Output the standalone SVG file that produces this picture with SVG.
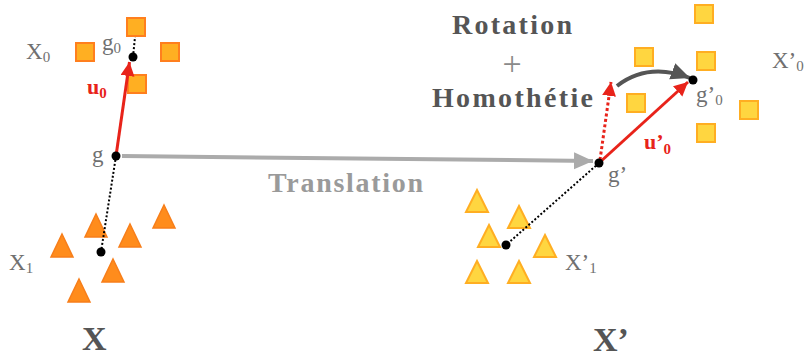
<svg xmlns="http://www.w3.org/2000/svg" width="806" height="358" viewBox="0 0 806 358">
<style>
.sqL{fill:#FFAF22;stroke:#FF7F1E;stroke-width:2}
.trL{fill:#FF8C1C;stroke:#F77E1A;stroke-width:1.5}
.sqR{fill:#FFD640;stroke:#FFAE22;stroke-width:2}
.trR{fill:#FFD640;stroke:#FFAE22;stroke-width:2}
.dot{fill:#000}
.lbl{font-family:"Liberation Serif",serif;fill:#707070;font-size:23px}
.sub{font-size:15px}
.red{font-family:"Liberation Serif",serif;fill:#E8231A;font-weight:bold;font-size:22px}
.big{font-family:"Liberation Serif",serif;fill:#555;font-weight:bold;font-size:34px}
.op{font-family:"Liberation Serif",serif;fill:#555;font-weight:bold;font-size:28px}
.dotted{stroke:#000;stroke-width:2;stroke-dasharray:2,2;fill:none}
</style>
<defs>
<marker id="hRed" markerUnits="userSpaceOnUse" markerWidth="16" markerHeight="16" refX="14" refY="7" orient="auto"><path d="M0,0 L14,7 L0,14 z" fill="#E8231A"/></marker>
<marker id="hGray" markerUnits="userSpaceOnUse" markerWidth="20" markerHeight="18" refX="19" refY="8.5" orient="auto"><path d="M0,0 L19,8.5 L0,17 z" fill="#ABABAB"/></marker>
<marker id="hDark" markerUnits="userSpaceOnUse" markerWidth="20" markerHeight="18" refX="19" refY="8.5" orient="auto"><path d="M0,0 L19,8.5 L0,17 z" fill="#555"/></marker>
</defs>

<g id="X0">
<rect class="sqL" x="127" y="18" width="18" height="18"/>
<rect class="sqL" x="76" y="43" width="18" height="18"/>
<rect class="sqL" x="161" y="43" width="18" height="18"/>
<rect class="sqL" x="128" y="75" width="18" height="18"/>
<text class="lbl" x="26" y="59">X<tspan class="sub" dy="3">0</tspan></text>
</g>

<g id="X1">
<polygon class="trL" points="96,214 107,237 85,237"/>
<polygon class="trL" points="62,234 73,257 51,257"/>
<polygon class="trL" points="130,224 141,247 119,247"/>
<polygon class="trL" points="164,205 175,228 153,228"/>
<polygon class="trL" points="113,259 124,282 102,282"/>
<polygon class="trL" points="79,279 90,302 68,302"/>
<text class="lbl" x="9" y="270">X<tspan class="sub" dy="3">1</tspan></text>
</g>

<g id="X0p">
<rect class="sqR" x="695" y="5" width="18" height="18"/>
<rect class="sqR" x="635" y="48" width="18" height="18"/>
<rect class="sqR" x="697" y="52" width="18" height="18"/>
<rect class="sqR" x="627" y="94" width="18" height="18"/>
<rect class="sqR" x="740" y="101" width="18" height="18"/>
<rect class="sqR" x="697" y="124" width="18" height="18"/>
<text class="lbl" x="772" y="68">X’<tspan class="sub" dy="3">0</tspan></text>
</g>

<g id="X1p">
<polygon class="trR" points="477,190 488,212 466,212"/>
<polygon class="trR" points="519,206 530,228 508,228"/>
<polygon class="trR" points="489,225 500,247 478,247"/>
<polygon class="trR" points="545,235 556,257 534,257"/>
<polygon class="trR" points="477,261 488,283 466,283"/>
<polygon class="trR" points="519,261 530,283 508,283"/>
<text class="lbl" x="565" y="270">X’<tspan class="sub" dy="3">1</tspan></text>
</g>

<g id="connectors">
<line class="dotted" x1="133" y1="57" x2="135" y2="37"/>
<line class="dotted" x1="116" y1="156" x2="101" y2="252"/>
<line class="dotted" x1="599" y1="163" x2="506" y2="245"/>
<line x1="122" y1="156" x2="593" y2="161" stroke="#ABABAB" stroke-width="4" marker-end="url(#hGray)"/>
<line x1="116" y1="156" x2="129.5" y2="62" stroke="#E8231A" stroke-width="3" marker-end="url(#hRed)"/>
<line x1="599" y1="163" x2="688" y2="82" stroke="#E8231A" stroke-width="3" marker-end="url(#hRed)"/>
<line x1="600" y1="160" x2="611" y2="82" stroke="#E8231A" stroke-width="3" stroke-dasharray="3,2.5" marker-end="url(#hRed)"/>
<path d="M617,86 Q648,62 690,78" fill="none" stroke="#555" stroke-width="4" marker-end="url(#hDark)"/>
</g>

<g id="g"><circle class="dot" cx="116" cy="156" r="4.5"/><text class="lbl" x="92" y="162">g</text></g>
<g id="g0"><circle class="dot" cx="133" cy="57" r="4.5"/><text class="lbl" x="102" y="50">g<tspan class="sub" dy="3">0</tspan></text></g>
<g id="gp"><circle class="dot" cx="599" cy="163" r="4.5"/><text class="lbl" x="608" y="182">g’</text></g>
<g id="g0p"><circle class="dot" cx="693" cy="80" r="4.5"/><text class="lbl" x="696" y="102">g’<tspan class="sub" dy="3">0</tspan></text></g>
<g id="gX1"><circle class="dot" cx="101" cy="252" r="4.5"/></g>
<g id="gX1p"><circle class="dot" cx="506" cy="245" r="4.5"/></g>

<text class="red" x="87" y="94">u<tspan class="sub" dy="4">0</tspan></text>
<text class="red" x="644" y="149">u’<tspan class="sub" dy="5">0</tspan></text>

<text class="op" x="268" y="192" style="fill:#9A9A9A" textLength="155">Translation</text>
<text class="op" x="452" y="34" textLength="120">Rotation</text>
<text x="512" y="75" text-anchor="middle" font-family="Liberation Serif,serif" font-size="34" fill="#8A8A8A">+</text>
<text class="op" x="432" y="107" textLength="161">Homothétie</text>

<text class="big" x="82" y="350">X</text>
<text class="big" x="593" y="351">X’</text>
</svg>
